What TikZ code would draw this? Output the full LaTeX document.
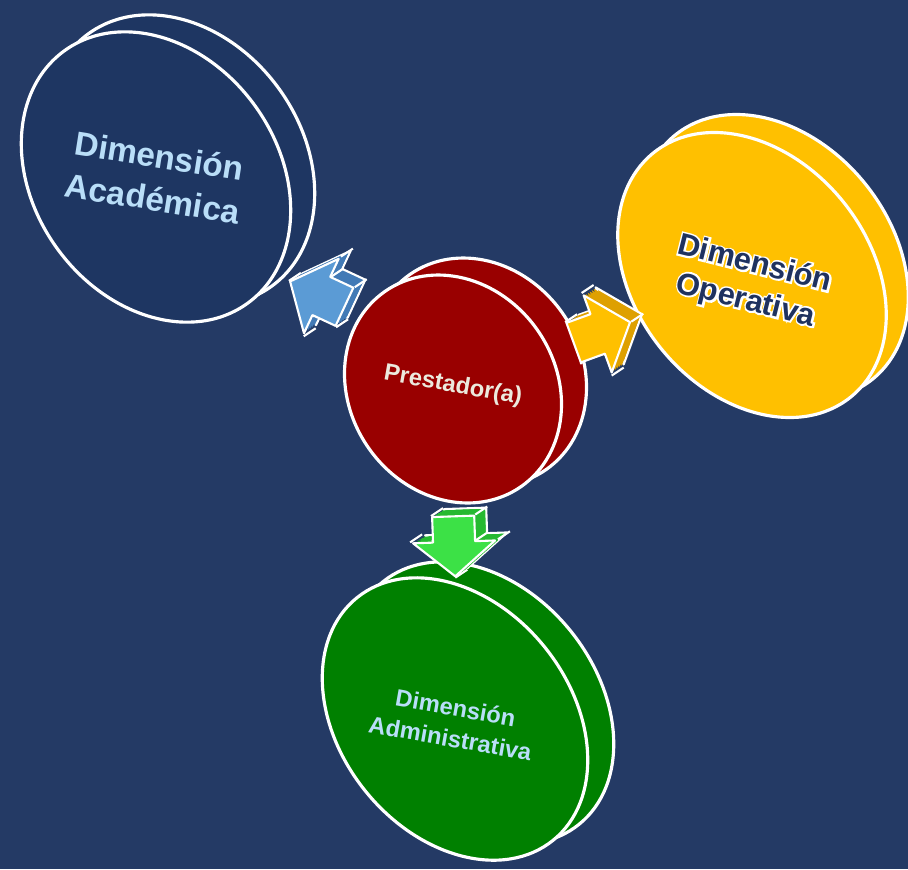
\documentclass[tikz,border=0pt]{standalone}
\usepackage{fontspec}
\setmainfont{Liberation Sans}
\newfontfamily\halofont{Liberation Sans}[FakeBold=12]
\usetikzlibrary{shapes.geometric, shapes.arrows, calc}

\definecolor{navybg}{RGB}{36,58,101}
\definecolor{acadfill}{RGB}{30,54,98}
\definecolor{presfill}{RGB}{153,0,0}
\definecolor{operfill}{RGB}{255,192,0}
\definecolor{admfill}{RGB}{0,128,0}
\definecolor{paleblue}{RGB}{185,222,248}
\definecolor{presink}{RGB}{236,234,222}
\definecolor{operink}{RGB}{31,50,95}
\definecolor{bluearr}{RGB}{91,155,213}
\definecolor{bluearrback}{RGB}{66,122,182}
\definecolor{yellowarr}{RGB}{255,192,0}
\definecolor{yellowarrback}{RGB}{222,160,0}
\definecolor{greenarr}{RGB}{60,225,70}
\definecolor{greenarrback}{RGB}{38,185,48}

\pgfdeclarelayer{sides}
\pgfdeclarelayer{fronts}
\pgfsetlayers{main,sides,fronts}

\tikzset{
  disc/.style={ellipse, draw=white, line width=1.8pt, inner sep=0pt},
  blockarrow/.style={single arrow, draw=white, line width=1.2pt, line join=round,
    inner sep=0pt, inner ysep=0.4cm, minimum height=1.2cm,
    single arrow head extend=0.4cm, single arrow tip angle=100},
  disctext/.style={align=center},
}

\begin{document}
\begin{tikzpicture}[x=0.02cm, y=0.02cm]
  \fill[navybg] (0,0) rectangle (908,-869);
  \useasboundingbox (0,0) rectangle (908,-869);

  % back faces
  \node[disc, fill=acadfill, minimum width=4.88cm, minimum height=6.24cm, rotate=36] (acadback) at (180,-160) {};
  \node[disc, fill=presfill, minimum width=4.12cm, minimum height=4.76cm, rotate=35] (presback) at (478,-372) {};
  \node[disc, fill=operfill, minimum width=4.68cm, minimum height=6.28cm, rotate=39] (operback) at (774,-257) {};
  \node[disc, fill=admfill, minimum width=4.6cm, minimum height=6.24cm, rotate=39] (admback) at (481,-703) {};

  % front faces
  \node[disc, fill=acadfill, minimum width=4.88cm, minimum height=6.24cm, rotate=36] (acad) at (156,-177) {};
  \node[disc, fill=presfill, minimum width=4.12cm, minimum height=4.76cm, rotate=35] (pres) at (453,-389) {};
  \node[disc, fill=operfill, minimum width=4.68cm, minimum height=6.28cm, rotate=39] (oper) at (752,-275) {};
  \node[disc, fill=admfill, minimum width=4.6cm, minimum height=6.24cm, rotate=39] (adm) at (455,-719) {};

  % labels
  \node[disctext, text=paleblue, font=\bfseries\fontsize{19}{24.5}\selectfont, rotate=-9] (acadtxt) at (acad) {Dimensión\\Académica};
  \node[disctext, text=presink, font=\bfseries\fontsize{13.5}{16}\selectfont, rotate=-10] (prestxt) at ([shift={(0,3)}]pres) {Prestador(a)};
  \node[disctext, text=white, font=\halofont\bfseries\fontsize{17.5}{21.5}\selectfont, rotate=-14] (operhalo) at ([shift={(-2,-8)}]oper) {Dimensión\\Operativa};
  \node[disctext, text=operink, font=\bfseries\fontsize{17.5}{21.5}\selectfont, rotate=-14] (opertxt) at (operhalo) {Dimensión\\Operativa};
  \node[disctext, text=paleblue, font=\bfseries\fontsize{13.5}{17.5}\selectfont, rotate=-10] (admtxt) at ([shift={(-2,-4)}]adm) {Dimensión\\Administrativa};

  % arrows
  \foreach \arr/\goal/\frac/\ang/\col in {toacad/acad/0.43/155/bluearr, tooper/oper/0.47/20/yellowarr, toadm/adm/0.45/-88/greenarr} {
    \begin{pgfonlayer}{fronts}
      \node[blockarrow, fill=\col, rotate=\ang] (\arr) at ($(pres)!\frac!(\goal)$) {};
    \end{pgfonlayer}
    \begin{pgfonlayer}{sides}
      \node[blockarrow, fill=\col back, rotate=\ang] (\arr back) at ($(\arr)+(12,8)$) {};
      \foreach \k in {1,...,5}
        \node[blockarrow, draw=none, fill=\col back, rotate=\ang] (\arr side\k) at ($(\arr)+\k/6*(12,8)$) {};
      \foreach \a in {tip, before tip, after tip, before head, after head, before tail, after tail}
        \draw[white, line width=1.2pt] (\arr.\a) -- (\arr back.\a);
    \end{pgfonlayer}
  }
\end{tikzpicture}
\end{document}
